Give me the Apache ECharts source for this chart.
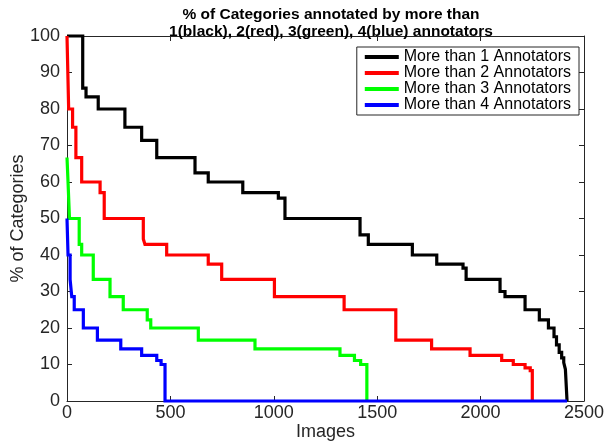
<!DOCTYPE html>
<html>
<head>
<meta charset="utf-8">
<script src="https://cdn.jsdelivr.net/npm/echarts@6/dist/echarts.min.js"></script>
<style>
html,body{margin:0;padding:0;background:#fff;}
#chart{width:604px;height:446px;}
</style>
</head>
<body>
<div id="chart"></div>
<script>
// Step start x and level (percent) for each series
var blackX = [0, 76, 92, 151, 280, 361, 434, 619, 683, 850, 1022, 1054, 1417, 1457, 1670, 1788, 1915, 1930, 2094, 2118, 2215, 2284, 2328, 2355, 2367, 2380, 2392, 2402, 2410, 2418];
var blackY = [100, 85.7, 83.3, 80, 75, 71.4, 66.7, 62.5, 60, 57.1, 55.6, 50, 45.5, 42.9, 40, 37.5, 36.4, 33.3, 30, 28.6, 25, 22.2, 20, 17.6, 15.4, 13.3, 11.8, 10.5, 8.7, 0];

var redX = [0, 4, 8, 27, 43, 71, 160, 180, 369, 377, 482, 683, 748, 1003, 1340, 1590, 1763, 1949, 2102, 2158, 2215, 2240, 2250];
var redY = [100, 90, 80, 75, 66.7, 60, 57.1, 50, 44.4, 42.9, 40, 37.5, 33.3, 28.6, 25, 16.7, 14.3, 12.5, 11.1, 10, 9.1, 8.3, 0];

var greenX = [0, 5, 12, 59, 71, 127, 208, 272, 388, 405, 635, 909, 1320, 1390, 1420, 1450];
var greenY = [66.7, 60, 50, 42.9, 40, 33.3, 28.6, 25, 22.2, 20, 16.7, 14.3, 12.5, 11.1, 10, 0];

var blueX = [0, 5, 15, 23, 35, 79, 147, 260, 361, 434, 455, 474, 2418];
var blueY = [50, 40, 33.3, 28.6, 25, 20, 16.7, 14.3, 12.5, 11.1, 10, 0, 0];

var seriesNames = ['More than 1 Annotators', 'More than 2 Annotators', 'More than 3 Annotators', 'More than 4 Annotators'];
var seriesColors = ['#000000', '#ff0000', '#00ff00', '#0000ff'];
var titleText = '% of Categories annotated by more than\n1(black), 2(red), 3(green), 4(blue) annotators';
var xName = 'Images';
var yName = '% of Categories';

function pairs(xs, ys) { return xs.map(function (x, i) { return [x, ys[i]]; }); }
var allData = [pairs(blackX, blackY), pairs(redX, redY), pairs(greenX, greenY), pairs(blueX, blueY)];

var FONT = '"Liberation Sans", Arial, Helvetica, sans-serif';
var AX = '#262626';

var chart = echarts.init(document.getElementById('chart'), null, {renderer: 'canvas'});
var tickCommon = {show: true, inside: true, length: 5, lineStyle: {color: AX, width: 1}};
var option = {
  animation: false,
  backgroundColor: '#fff',
  title: {
    text: titleText,
    left: 326, top: 1,
    textAlign: 'center',
    textStyle: {fontFamily: FONT, fontSize: 15.5, fontWeight: 'bold', color: '#000', lineHeight: 17}
  },
  grid: {left: 67, right: 20, top: 36, bottom: 45, containLabel: false, outerBoundsMode: 'none'},
  legend: {
    data: seriesNames,
    orient: 'vertical',
    right: 25, top: 47,
    icon: 'rect',
    itemWidth: 34, itemHeight: 4, itemGap: 0,
    padding: [2, 8, 2, 8],
    borderColor: AX, borderWidth: 1, backgroundColor: '#fff',
    textStyle: {fontFamily: FONT, fontSize: 16, color: '#000', lineHeight: 16}
  },
  xAxis: [{
    type: 'value', min: 0, max: 2500, interval: 500, position: 'bottom',
    name: xName, nameLocation: 'middle', nameGap: 22, nameMoveOverlap: false,
    nameTextStyle: {fontFamily: FONT, fontSize: 18, color: AX},
    axisLine: {show: true, onZero: false, lineStyle: {color: AX, width: 1}},
    axisTick: tickCommon,
    axisLabel: {fontFamily: FONT, fontSize: 18, color: AX, margin: 3, formatter: function (v) { return String(v); }},
    splitLine: {show: false}
  }, {
    type: 'value', min: 0, max: 2500, interval: 500, position: 'top',
    axisLine: {show: true, onZero: false, lineStyle: {color: AX, width: 1}},
    axisTick: tickCommon, axisLabel: {show: false}, splitLine: {show: false}
  }],
  yAxis: [{
    type: 'value', min: 0, max: 100, interval: 10, position: 'left',
    name: yName, nameLocation: 'middle', nameGap: 40, nameRotate: 90, nameMoveOverlap: false,
    nameTextStyle: {fontFamily: FONT, fontSize: 18, color: AX},
    axisLine: {show: true, onZero: false, lineStyle: {color: AX, width: 1}},
    axisTick: tickCommon,
    axisLabel: {fontFamily: FONT, fontSize: 18, color: AX, margin: 7},
    splitLine: {show: false}
  }, {
    type: 'value', min: 0, max: 100, interval: 10, position: 'right',
    axisLine: {show: true, onZero: false, lineStyle: {color: AX, width: 1}},
    axisTick: tickCommon, axisLabel: {show: false}, splitLine: {show: false}
  }],
  series: allData.map(function (d, i) {
    return {
      name: seriesNames[i], type: 'line', step: 'end', data: d,
      symbol: 'none', clip: false, z: 2 + i,
      itemStyle: {color: seriesColors[i]},
      lineStyle: {color: seriesColors[i], width: 3.2, join: 'miter'}
    };
  })
};
chart.setOption(option);
</script>
</body>
</html>
